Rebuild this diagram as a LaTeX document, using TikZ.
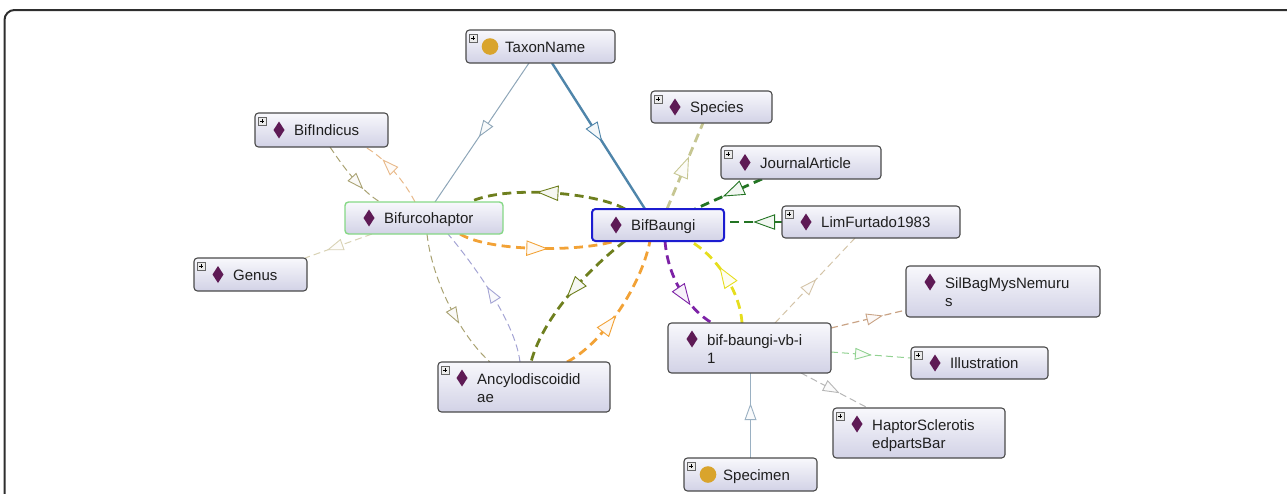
\documentclass[tikz,border=0pt]{standalone}
\usepackage{fontspec}
\setmainfont{Liberation Sans}
\usetikzlibrary{decorations.markings,backgrounds}

% box and icon colours
\definecolor{boxtop}{HTML}{F8F8FC}
\definecolor{boxbot}{HTML}{D2D2E6}
\definecolor{boxline}{HTML}{4A4A4A}
\definecolor{diamcol}{HTML}{5E1A55}
\definecolor{circcol}{HTML}{D9A42C}
\definecolor{selblue}{HTML}{1C1CD0}
\definecolor{curgreen}{HTML}{86D886}
% connector colours
\definecolor{cTaxThin}{HTML}{8EA6B8}
\definecolor{cTaxThick}{HTML}{4F85AA}
\definecolor{cOliveGray}{HTML}{A9A272}
\definecolor{cPeach}{HTML}{E8B98A}
\definecolor{cSand}{HTML}{D8D2B4}
\definecolor{cOlive}{HTML}{6E7F1E}
\definecolor{cOrange}{HTML}{F2A236}
\definecolor{cLavender}{HTML}{A4A4D4}
\definecolor{cKhaki}{HTML}{C6C692}
\definecolor{cDkGreen}{HTML}{237423}
\definecolor{cPurple}{HTML}{7D22A6}
\definecolor{cYellow}{HTML}{E6DE1E}
\definecolor{cTan}{HTML}{D4C4A8}
\definecolor{cBrown}{HTML}{C9A385}
\definecolor{cLtGreen}{HTML}{92D292}
\definecolor{cGray}{HTML}{B6B6B6}
\definecolor{cSpec}{HTML}{9AB0C2}

\newcommand{\ontofont}{\fontsize{15}{18}\selectfont}

% icons
\newcommand{\ontodiamond}[2]{\fill[diamcol] ({#1},{#2-8.5}) -- ({#1+5.5},{#2}) -- ({#1},{#2+8.5}) -- ({#1-5.5},{#2}) -- cycle;}
\newcommand{\ontocircle}[2]{\fill[circcol] ({#1},{#2}) circle[radius=8.3];}
\newcommand{\plusicon}[1]{%
  \draw[draw=black!60, fill=black!8, line width=0.6pt] ([xshift=3pt,yshift=-4pt]#1.north west) rectangle ++(8,8);
  \draw[line width=0.9pt] ([xshift=4.8pt,yshift=-8pt]#1.north west) -- ++(4.4,0);
  \draw[line width=0.9pt] ([xshift=7pt,yshift=-5.8pt]#1.north west) -- ++(0,4.4);
}
% #1 name, #2 left, #3 top, #4 right, #5 bottom, #6 frame style, #7 icon, #8 line 1, #9 line 2
\newcommand{\ontobox}[9]{%
  \node[ontobx,#6,minimum width={#4-#2},minimum height={#5-#3}] (#1) at ({(#2+#4)/2},{(#3+#5)/2}) {};
  \if\relax\detokenize{#9}\relax
    #7{#2+24}{(#3+#5)/2}
    \node[lbl] (#1-t) at ({#2+39},{(#3+#5)/2+5.5}) {#8};
  \else
    #7{#2+24}{#3+16}
    \node[lbl] (#1-t) at ({#2+39},{#3+22}) {#8};
    \node[lbl] (#1-u) at ({#2+39},{#3+40}) {#9};
  \fi
}

\begin{document}
\begin{tikzpicture}[x=1pt,y=-1pt,
  ontobx/.style={draw=boxline, line width=1.1pt, rounded corners=3.5pt,
    top color=boxtop, bottom color=boxbot, inner sep=0pt, outer sep=0pt},
  selected/.style={draw=selblue, line width=2pt},
  current/.style={draw=curgreen, line width=1.4pt},
  plain/.style={},
  lbl/.style={anchor=base west, inner sep=0pt, font=\ontofont, text=black!88},
  thinl/.style={line width=1pt, dash pattern=on 7pt off 4pt},
  thickl/.style={line width=2.8pt, dash pattern=on 9pt off 5.5pt},
  solidl/.style={line width=1pt},
  midarrow/.style n args={3}{postaction={decorate,
    decoration={markings, mark=at position #1 with {
      \draw[solid, line width=0.9pt, draw=#2, fill=#2!6!white, line join=miter]
        ({-#3/2},{-0.36*#3}) -- ({#3/2},0) -- ({-#3/2},{0.36*#3}) -- cycle;}}}},
]
\useasboundingbox (0,0) rectangle (1287,493);

% outer frame
\begin{scope}
  \clip (0,0) rectangle (1287,493);
  \draw[line width=2pt, draw=black!82, rounded corners=10pt] (4.5,10) rectangle (1297,560);
\end{scope}

% nodes
\ontobox{taxon}{466}{30}{615}{63}{plain}{\ontocircle}{TaxonName}{}
\ontobox{bifind}{255}{113}{388}{147}{plain}{\ontodiamond}{BifIndicus}{}
\ontobox{bifurc}{345}{202}{503}{234}{current}{\ontodiamond}{Bifurcohaptor}{}
\ontobox{genus}{194}{258}{307}{291}{plain}{\ontodiamond}{Genus}{}
\ontobox{bifb}{592}{209}{724}{241}{selected}{\ontodiamond}{BifBaungi}{}
\ontobox{species}{651}{91}{772}{123}{plain}{\ontodiamond}{Species}{}
\ontobox{journal}{721}{146}{881}{179}{plain}{\ontodiamond}{JournalArticle}{}
\ontobox{lim}{782}{206}{960}{238}{plain}{\ontodiamond}{LimFurtado1983}{}
\ontobox{silbag}{906}{266}{1100}{317}{plain}{\ontodiamond}{SilBagMysNemuru}{s}
\ontobox{illus}{911}{347}{1048}{379}{plain}{\ontodiamond}{Illustration}{}
\ontobox{haptor}{833}{408}{1005}{458}{plain}{\ontodiamond}{HaptorSclerotis}{edpartsBar}
\ontobox{specimen}{684}{458}{817}{491}{plain}{\ontocircle}{Specimen}{}
\ontobox{anc}{438}{362}{610}{412}{plain}{\ontodiamond}{Ancylodiscoidid}{ae}
\ontobox{bvb}{668}{323}{831}{373}{plain}{\ontodiamond}{bif-baungi-vb-i}{1}

\plusicon{taxon}
\plusicon{bifind}
\plusicon{genus}
\plusicon{species}
\plusicon{journal}
\plusicon{lim}
\plusicon{illus}
\plusicon{haptor}
\plusicon{specimen}
\plusicon{anc}

% connectors
\begin{scope}[on background layer]
  % class memberships
  \draw[solidl, draw=cTaxThin, midarrow={0.48}{cTaxThin}{15}]
    ([xshift=63pt]taxon.south west) -- ([xshift=90pt]bifurc.north west);
  \draw[solidl, line width=2.4pt, draw=cTaxThick, midarrow={0.48}{cTaxThick}{18}]
    ([xshift=86pt]taxon.south west) -- ([xshift=53pt]bifb.north west);
  \draw[solidl, draw=cSpec, midarrow={0.54}{cSpec}{15}]
    (specimen.north) -- (specimen.north |- bvb.south);

  % around Bifurcohaptor
  \draw[thinl, draw=cOliveGray, midarrow={0.6}{cOliveGray}{15}]
    ([xshift=75pt]bifind.south west) .. controls (342,165) and (360,190) .. ([xshift=35pt]bifurc.north west);
  \draw[thinl, draw=cPeach, midarrow={0.6}{cPeach}{15}]
    ([xshift=70pt]bifurc.north west) .. controls (405,182) and (385,158) .. ([xshift=110pt]bifind.south west);
  \draw[thinl, draw=cSand, midarrow={0.55}{cSand}{15}]
    ([xshift=27pt]bifurc.south west) -- ([xshift=-2pt]genus.north east);
  \draw[thinl, draw=cOliveGray, midarrow={0.6}{cOliveGray}{15}]
    ([xshift=82pt]bifurc.south west) .. controls (432,280) and (460,335) .. ([xshift=52pt]anc.north west);
  \draw[thinl, draw=cLavender, midarrow={0.5}{cLavender}{15}]
    ([xshift=82pt]anc.north west) .. controls (515,320) and (470,260) .. ([xshift=-55pt]bifurc.south east);

  % between BifBaungi and Bifurcohaptor / Ancylodiscoididae
  \draw[thickl, draw=cOlive, midarrow={0.5}{cOlive}{20}]
    ([xshift=33pt]bifb.north west) .. controls (595,192) and (505,185) .. ([xshift=-33pt]bifurc.north east);
  \draw[thickl, draw=cOrange, midarrow={0.5}{cOrange}{20}]
    ([xshift=-43pt]bifurc.south east) .. controls (490,252) and (580,252) .. ([xshift=23pt]bifb.south west);
  \draw[thickl, draw=cOlive, midarrow={0.45}{cOlive}{20}]
    ([xshift=33pt]bifb.south west) .. controls (600,260) and (545,310) .. ([xshift=93pt]anc.north west);
  \draw[thickl, draw=cOrange, midarrow={0.38}{cOrange}{20}]
    ([xshift=129pt]anc.north west) .. controls (600,345) and (640,290) .. ([xshift=58pt]bifb.south west);

  % above and right of BifBaungi
  \draw[thickl, draw=cKhaki, midarrow={0.49}{cKhaki}{20}]
    ([xshift=75pt]bifb.north west) -- ([xshift=52pt]species.south west);
  \draw[thickl, draw=cDkGreen, midarrow={0.43}{cDkGreen}{20}]
    ([xshift=41pt]journal.south west) -- ([xshift=-29pt]bifb.north east);
  \draw[thickl, draw=cDkGreen, midarrow={0.3}{cDkGreen}{20}]
    (lim.west) -- (lim.west -| bifb.east);

  % between BifBaungi and bif-baungi-vb-i1
  \draw[thickl, draw=cPurple, midarrow={0.6}{cPurple}{20}]
    ([xshift=73pt]bifb.south west) .. controls (668,280) and (690,310) .. ([xshift=44pt]bvb.north west);
  \draw[thickl, draw=cYellow, midarrow={0.5}{cYellow}{20}]
    ([xshift=74pt]bvb.north west) .. controls (740,290) and (715,255) .. ([xshift=-34pt]bifb.south east);

  % from bif-baungi-vb-i1
  \draw[thinl, draw=cTan, midarrow={0.44}{cTan}{15}]
    ([xshift=107pt]bvb.north west) -- ([xshift=73pt]lim.south west);
  \draw[thinl, line width=1.2pt, draw=cBrown, midarrow={0.58}{cBrown}{15}]
    ([yshift=-5pt]bvb.north east) -- ([yshift=7pt]silbag.south west);
  \draw[thinl, draw=cLtGreen, midarrow={0.4}{cLtGreen}{15}]
    ([yshift=-4pt]bvb.east) -- ([yshift=5pt]illus.west);
  \draw[thinl, draw=cGray, midarrow={0.46}{cGray}{15}]
    ([xshift=-30pt]bvb.south east) -- ([xshift=35pt]haptor.north west);
\end{scope}
\end{tikzpicture}
\end{document}
